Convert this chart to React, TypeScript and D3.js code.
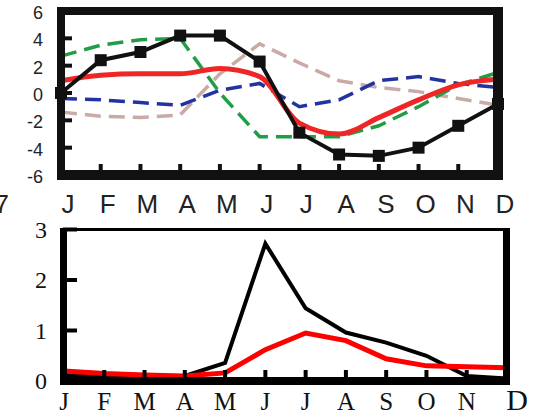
import React from "react";
import * as d3 from "d3";

const months = ["J", "F", "M", "A", "M", "J", "J", "A", "S", "O", "N", "D"];
const topTicks = [6, 4, 2, 0, -2, -4, -6];
const botTicks = [3, 2, 1, 0];

const topBlack = [0.0, 2.4, 3.0, 4.2, 4.2, 2.3, -2.9, -4.5, -4.6, -4.0, -2.4, -0.8];
const topRed = [0.9, 1.3, 1.4, 1.4, 1.8, 1.2, -2.2, -3.0, -1.8, -0.5, 0.6, 1.0];
const topGreen = [2.7, 3.5, 3.9, 4.0, 0.0, -3.2, -3.2, -3.2, -2.4, -1.0, 0.6, 1.5];
const topBlue = [-0.4, -0.5, -0.7, -0.9, 0.2, 0.7, -1.0, -0.5, 0.9, 1.2, 0.7, 0.4];
const topPink = [-1.4, -1.7, -1.8, -1.6, 1.4, 3.6, 2.2, 0.9, 0.4, 0.1, -0.4, -0.9];

const botBlack = [0.12, 0.1, 0.1, 0.1, 0.36, 2.72, 1.44, 0.96, 0.76, 0.5, 0.1, 0.05];
const botRed = [0.2, 0.15, 0.12, 0.1, 0.16, 0.62, 0.95, 0.8, 0.44, 0.3, 0.28, 0.26];

export default function App() {
  const idx = d3.range(12);
  const xT = d3.scaleLinear().domain([0, 11]).range([61, 498]);
  const yT = d3.scaleLinear().domain([-6, 6]).range([175, 11]);
  const xB = d3.scaleLinear().domain([0, 11]).range([64, 507]);
  const yB = d3.scaleLinear().domain([0, 3]).range([381, 229.5]);

  const lineT = (vals: number[], curve: any = d3.curveLinear) =>
    d3.line<number>().x((_, i) => xT(i)).y((v) => yT(v)).curve(curve)(vals) || "";
  const lineB = (vals: number[]) =>
    d3.line<number>().x((_, i) => xB(i)).y((v) => yB(v))(vals) || "";

  const sans = "'Liberation Sans', Arial, sans-serif";
  const serif = "'Liberation Serif', 'Times New Roman', serif";

  return (
    <svg width={533} height={418} style={{ position: "absolute", left: 0, top: 0 }}>
      <rect x={0} y={0} width={533} height={418} fill="#fff" />
      {/* ---- top panel ---- */}
      <g>
        <path d={lineT(topPink)} fill="none" stroke="#c9aaa7" strokeWidth={3.5} strokeDasharray="16 8" />
        <path d={lineT(topBlue)} fill="none" stroke="#2233a0" strokeWidth={3.5} strokeDasharray="16 8" />
        <path d={lineT(topGreen)} fill="none" stroke="#1f9e45" strokeWidth={3.5} strokeDasharray="16 8" />
        <path d={lineT(topRed, d3.curveMonotoneX)} fill="none" stroke="#ee2626" strokeWidth={5} strokeLinejoin="round" />
        <path d={lineT(topBlack)} fill="none" stroke="#111" strokeWidth={4} />
        {topBlack.map((v, i) => (
          <rect key={i} x={xT(i) - 6} y={yT(v) - 6} width={12} height={12} fill="#111" />
        ))}
        {/* frame */}
        <line x1={57} x2={503} y1={11} y2={11} stroke="#111" strokeWidth={8} />
        <line x1={57} x2={503} y1={175} y2={175} stroke="#111" strokeWidth={10} />
        <line x1={61} x2={61} y1={7} y2={180} stroke="#111" strokeWidth={8} />
        <line x1={498} x2={498} y1={7} y2={180} stroke="#111" strokeWidth={10} />
        {topTicks.map((t) => (
          <g key={"yt" + t}>
            <line x1={61} x2={72} y1={yT(t)} y2={yT(t)} stroke="#111" strokeWidth={4} />
            <text x={43} y={yT(t) + 8} textAnchor="end" fontFamily={sans} fontSize={18} fill="#222">
              {t}
            </text>
          </g>
        ))}
        {idx.map((i) => (
          <g key={"xt" + i}>
            <line x1={xT(i)} x2={xT(i)} y1={175} y2={164} stroke="#111" strokeWidth={4} />
            <text x={xT(i) + 7} y={213} textAnchor="middle" fontFamily={sans} fontSize={26} fill="#222">
              {months[i]}
            </text>
          </g>
        ))}
        <text x={9} y={213} textAnchor="end" fontFamily={sans} fontSize={26} fill="#222">7</text>
      </g>
      {/* ---- bottom panel ---- */}
      <g>
        <path d={lineB(botBlack)} fill="none" stroke="#000" strokeWidth={4} />
        <path d={lineB(botRed)} fill="none" stroke="#ff0000" strokeWidth={5} />
        <line x1={60} x2={510} y1={229.5} y2={229.5} stroke="#000" strokeWidth={3} />
        <line x1={60} x2={510} y1={381} y2={381} stroke="#000" strokeWidth={8} />
        <line x1={63.5} x2={63.5} y1={228} y2={385} stroke="#000" strokeWidth={7} />
        <line x1={506.5} x2={506.5} y1={228} y2={385} stroke="#000" strokeWidth={7} />
        {botTicks.map((t) => (
          <g key={"yb" + t}>
            <line x1={63} x2={77} y1={yB(t)} y2={yB(t)} stroke="#000" strokeWidth={4} />
            <text x={47} y={yB(t) + 8} textAnchor="end" fontFamily={serif} fontSize={24} fill="#111">
              {t}
            </text>
          </g>
        ))}
        {idx.map((i) => (
          <g key={"xb" + i}>
            <line x1={xB(i)} x2={xB(i)} y1={381} y2={370} stroke="#000" strokeWidth={4} />
            <text
              x={xB(i) + (i === 11 ? 10 : 0)}
              y={410}
              textAnchor="middle"
              fontFamily={serif}
              fontSize={i === 11 ? 30 : 25}
              fill="#111"
            >
              {months[i]}
            </text>
          </g>
        ))}
      </g>
    </svg>
  );
}
